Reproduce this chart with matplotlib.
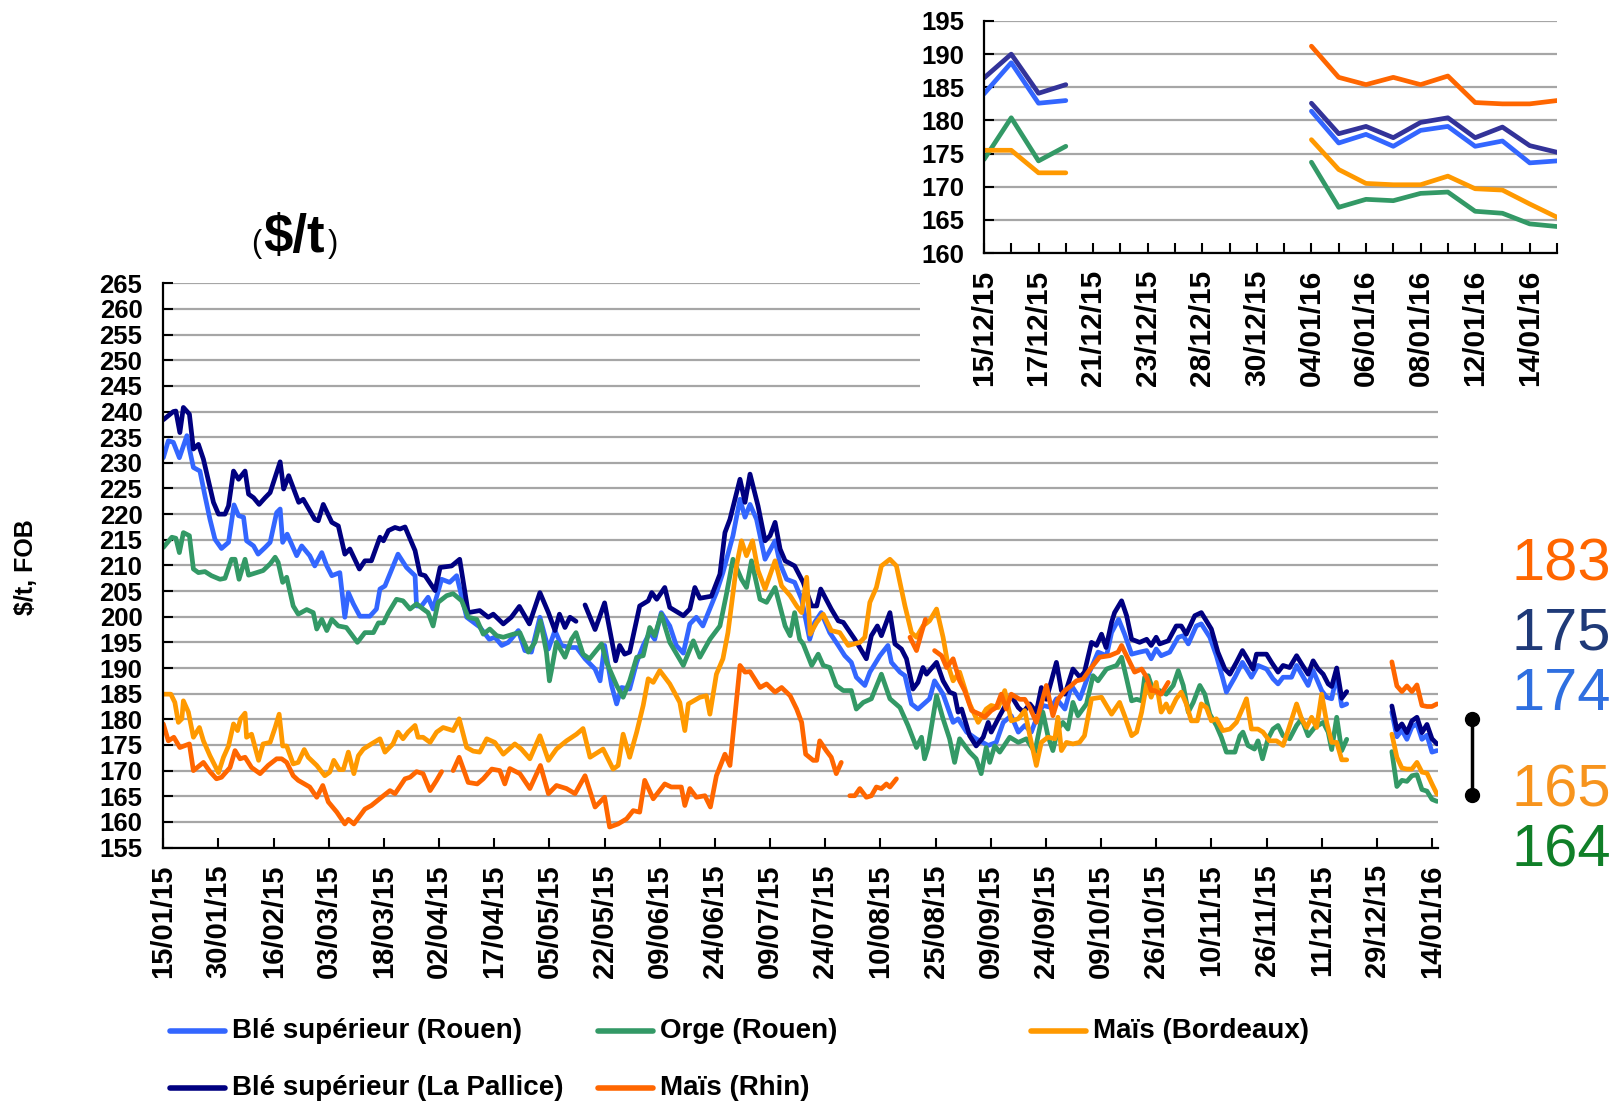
import numpy as np
import matplotlib
matplotlib.use("Agg")
import matplotlib.pyplot as plt
from matplotlib.lines import Line2D
from matplotlib.patches import Rectangle

plt.rcParams['font.family'] = ['Liberation Sans', 'DejaVu Sans']
plt.rcParams['font.weight'] = 'bold'

nan = np.nan

# Axe principal : jours ouvrés, une étiquette tous les 11 jours
date_labels = ['15/01/15', '30/01/15', '16/02/15', '03/03/15', '18/03/15', '02/04/15',
               '17/04/15', '05/05/15', '22/05/15', '09/06/15', '24/06/15', '09/07/15',
               '24/07/15', '10/08/15', '25/08/15', '09/09/15', '24/09/15', '09/10/15',
               '26/10/15', '10/11/15', '26/11/15', '11/12/15', '29/12/15', '14/01/16']

# Blé supérieur (Rouen)
rouen_day = [0, 1, 2, 3.2, 3.9, 4.7, 5.3, 6, 7.3, 8.3, 9.3, 10.3, 11.6, 13, 14.1, 15, 16, 16.6, 18,
             18.9, 20.3, 21.3, 22.6, 23.3, 23.8, 24.7, 26.6, 27.6, 29.2, 30.2, 31.6, 32.6, 33.6,
             35.2, 36.2, 36.9, 37.9, 39.2, 41.2, 42.5, 43.2, 44.2, 46.8, 48.5, 50.2, 50.5, 51.5,
             52.8, 53.8, 55.5, 57.1, 58.5, 60.5, 63.1, 65, 66.1, 67.5, 68.8, 70.8, 72.1, 73.4,
             75.1, 76.8, 78.1, 79.4, 81.1, 82.4, 84.1, 86.1, 87.1, 88, 89.4, 90.4, 91.4, 93, 94.4,
             95.7, 97, 98, 99.3, 101, 102.3, 103.7, 105, 106.3, 107.6, 110.3, 111.6, 113.6, 115,
             116, 117, 118.3, 120, 122, 123, 124.3, 125.9, 127.3, 128.9, 129.9, 131.2, 132.9,
             134.6, 135.9, 137.2, 138.2, 139.9, 140.9, 142.9, 144.5, 145.2, 146.9, 147.9, 149.2,
             150.5, 152.8, 153.8, 155.5, 157.5, 158.5, 160.2, 162.1, 164.5, 166.1, 167.5, 169.1,
             170.5, 171.8, 173.1, 174.1, 175.4, 177.1, 178.1, 179.8, 181.1, 182.8, 184.7, 186.4,
             188.1, 189.1, 190.5, 191.7, 193.1, 194.7, 196.1, 197, 198, 199, 200.7, 202.4, 203.4,
             204.4, 206, 207, 208.7, 210, 211.3, 212, 213.7, 215.2, 217, 218.3, 220, 221.3, 222.3,
             223.3, 225, 226, 227, 228.3, 229.3, 231, 232, 233, 234, 235, 236, 240, 245, 246,
             247, 248, 249, 250, 251, 252, 253, 254]
rouen_usd = [231.0, 234.3, 234.0, 231.0, 233.0, 235.3, 232.3, 229.1, 228.4, 223.6, 219.0, 215.1,
             213.3, 214.5, 221.8, 219.7, 219.4, 214.8, 213.8, 212.2, 213.5, 214.5, 220.3, 221.0,
             214.5, 216.1, 211.9, 213.8, 211.9, 209.9, 212.5, 209.9, 208.0, 208.6, 199.9, 204.7,
             202.5, 200.1, 200.1, 201.5, 205.4, 206.0, 212.2, 209.6, 208.0, 202.1, 202.1, 203.8,
             201.5, 207.3, 206.7, 208.0, 199.9, 198.0, 195.6, 196.0, 194.4, 195.0, 197.3, 193.4,
             193.1, 199.9, 193.7, 197.3, 194.4, 194.0, 194.0, 191.8, 189.8, 187.5, 194.4, 186.6,
             183.0, 186.2, 185.9, 191.1, 194.4, 196.9, 195.6, 200.8, 198.2, 194.4, 192.9, 198.6,
             199.9, 198.2, 204.7, 208.6, 215.8, 222.9, 219.4, 221.9, 219.0, 211.2, 214.8, 210.3,
             207.3, 206.7, 203.4, 195.6, 198.9, 200.8, 196.9, 194.4, 192.4, 191.1, 188.2, 186.6,
             189.2, 192.4, 194.4, 191.1, 189.2, 188.5, 183.0, 182.0, 184.0, 187.5, 184.9, 179.4,
             180.1, 177.5, 176.2, 174.9, 175.5, 179.4, 180.7, 177.5, 178.8, 177.5, 180.1, 182.7,
             182.3, 184.0, 182.0, 186.6, 184.0, 189.2, 193.1, 192.4, 196.9, 199.5, 196.6, 192.7,
             193.1, 193.4, 191.8, 193.7, 192.4, 193.1, 196.0, 196.3, 194.7, 198.2, 198.6, 196.0,
             192.4, 187.9, 185.3, 188.2, 191.1, 188.2, 190.5, 189.8, 187.9, 186.9, 188.2, 188.2,
             190.5, 188.8, 186.6, 189.5, 185.6, 184.3, 184.0, 188.7, 182.6, 183.0, nan, 181.4,
             176.6, 177.9, 176.1, 178.5, 179.1, 176.1, 176.9, 173.6, 173.9]

# Blé supérieur (La Pallice)
pallice_day = [0, 2, 2.5, 3.3, 4, 5.2, 6, 7, 8, 10, 11, 12.3, 13, 14, 15, 16.3, 17, 18, 19.1, 20.3,
               21.3, 23.3, 24, 25, 27, 27.9, 30.2, 30.9, 31.9, 33.6, 34.9, 36.2, 37.2, 39.1, 40.2,
               41.5, 43.2, 43.9, 44.9, 46.2, 47.2, 48.2, 50.2, 51.2, 52.2, 54.2, 55.2, 57.5, 59.1,
               60.8, 63.1, 64.8, 65.8, 67.8, 69.4, 71, 73, 75.1, 76.8, 78.1, 79, 80.1, 81.1, 82.3,
               83.2, 84.1, 86.1, 88, 90.2, 91, 92, 93, 95, 96.7, 97.4, 98.4, 100, 101, 103.7, 105,
               106, 107, 109.3, 111, 112, 113, 115, 116, 117, 118.6, 120, 121, 122, 123, 124,
               125.9, 127.6, 129.3, 130.3, 131.1, 133.2, 134.6, 135.6, 137.9, 140.2, 141.2, 142.4,
               143.2, 144.9, 145.9, 147.2, 148.2, 149.5, 150.5, 151.5, 152.2, 154.2, 155.5, 156.8,
               157.8, 158.5, 159.2, 160.8, 162.1, 163.5, 164.5, 165.1, 166.8, 168.1, 169.1, 170.5,
               171.5, 172.8, 174.1, 175.1, 176.1, 178.1, 179.1, 179.8, 181.4, 182.8, 183.7, 185.1,
               186.1, 187.1, 188, 189.1, 189.7, 191.1, 192.1, 193.1, 194.7, 196.1, 197, 198,
               198.7, 200.4, 202, 203, 204, 205.7, 207, 209, 210.3, 211.7, 212.7, 214, 215.2, 216,
               217.3, 218, 220, 221, 222.3, 223.3, 224.6, 226, 227, 228.3, 229.3, 230.3, 231.3,
               232.3, 233, 234, 235, 236, 240, 245, 246, 247, 248, 249, 250, 251, 252, 253, 254]
pallice_usd = [238.4, 240.0, 240.1, 235.9, 240.8, 239.5, 232.7, 233.6, 230.7, 222.3, 220.0, 220.0,
               221.6, 228.4, 226.8, 228.4, 223.9, 223.2, 221.9, 223.2, 224.2, 230.2, 224.9, 227.5,
               222.3, 222.9, 219.0, 218.7, 221.9, 218.4, 217.7, 212.2, 213.2, 209.3, 210.9, 210.9,
               215.5, 214.8, 216.8, 217.4, 217.1, 217.5, 212.9, 208.3, 208.0, 205.1, 209.6, 209.9,
               211.2, 200.8, 201.2, 199.9, 200.5, 198.6, 199.9, 202.0, 198.6, 204.7, 200.8, 197.3,
               200.5, 197.9, 199.9, 199.1, nan, 202.3, 197.5, 202.7, 191.4, 194.4, 192.7, 193.1,
               202.1, 203.1, 204.7, 203.4, 205.7, 201.8, 200.2, 201.5, 205.7, 203.6, 204.0, 208.3,
               216.4, 219.0, 226.8, 222.3, 227.8, 221.6, 214.8, 215.8, 218.4, 213.2, 210.9, 209.9,
               206.7, 202.1, 202.1, 205.4, 201.5, 199.2, 198.9, 195.6, 191.8, 196.3, 198.2, 196.3,
               200.8, 194.7, 193.7, 191.8, 185.9, 187.2, 190.1, 188.8, 191.1, 187.5, 185.3, 184.9,
               181.4, 182.0, 176.8, 174.8, 176.5, 179.4, 177.5, 180.7, 183.0, 184.6, 182.3, 181.4,
               183.0, 181.4, 186.2, 183.9, 191.1, 185.6, 184.9, 189.8, 188.2, 189.2, 195.0, 194.4,
               196.6, 194.0, 198.9, 200.8, 203.1, 200.2, 195.6, 195.0, 195.6, 194.4, 196.0, 194.7,
               195.3, 198.2, 198.2, 196.6, 200.2, 200.8, 197.6, 193.1, 189.8, 188.8, 191.1, 193.4,
               192.1, 189.8, 192.7, 192.7, 191.1, 189.2, 190.5, 190.1, 192.4, 190.8, 188.8, 191.4,
               189.8, 188.8, 186.9, 186.4, 190.0, 184.1, 185.4, nan, 182.6, 178.0, 179.1, 177.4,
               179.7, 180.4, 177.4, 179.0, 176.2, 175.2]

# Orge (Rouen)
orge_day = [0, 1.7, 2.5, 3.2, 4, 5.2, 6, 7, 8.3, 9.6, 11.3, 12.3, 13.6, 14.3, 15.1, 16.3, 17, 18.6,
            19.9, 21.3, 22.3, 22.9, 23.8, 24.6, 25.2, 25.9, 26.9, 28.6, 29.9, 30.6, 31.6, 32.6,
            33.6, 34.9, 36.5, 37.5, 38.7, 40.2, 41.9, 42.9, 43.9, 44.9, 46.5, 47.8, 49.2, 50.5,
            51.8, 52.8, 53.8, 54.8, 56.5, 57.8, 59.5, 60.8, 62.5, 63.8, 65.1, 66.5, 67.8, 69.8,
            71.1, 72.8, 74.1, 75.2, 76.4, 77, 77.4, 78.4, 80.1, 81.4, 82.3, 83.7, 85, 87.4, 88.4,
            90.4, 91.7, 93, 94.4, 95.7, 97, 98, 99.3, 101, 103.7, 105.7, 107, 109, 111, 112.3,
            113.6, 115.3, 116.3, 117.3, 119, 120.3, 122, 124, 125, 125.9, 126.9, 127.6, 129.3,
            130.6, 131.6, 132.9, 134.2, 135.6, 137.2, 138.2, 139.6, 141.2, 143.2, 144.9, 146.9,
            148.5, 150.2, 151.2, 151.8, 152.5, 154.2, 155.5, 156.8, 157.8, 158.8, 160.8, 162.1,
            163.1, 164.1, 164.8, 165.8, 166.8, 168.8, 170.5, 172.1, 173.8, 175.4, 176.4, 177.4,
            178.4, 179.4, 180.4, 181.4, 182.4, 184.1, 185.4, 186.4, 188.1, 190.1, 191.1, 192.1,
            193.1, 194.1, 195.1, 195.7, 196.4, 197.4, 198.7, 200, 201.4, 202.4, 203.4, 204.4,
            205.4, 206.7, 207.7, 208.7, 210, 211, 212, 213.7, 214.7, 215.3, 216.3, 217.6, 218.3,
            219.2, 220.3, 221.3, 222.3, 223.3, 224.6, 226, 227, 228.3, 229.6, 231.3, 232.3, 233,
            234, 235, 236, 240, 245, 246, 247, 248, 249, 250, 251, 252, 253, 254]
orge_usd = [213.5, 215.5, 215.3, 212.5, 216.4, 215.8, 209.3, 208.6, 208.8, 208.0, 207.3, 207.5,
            211.2, 211.2, 207.3, 211.2, 208.1, 208.6, 209.0, 210.3, 211.6, 210.6, 206.7, 207.7,
            205.1, 202.1, 200.5, 201.4, 200.8, 197.6, 199.5, 197.3, 199.5, 198.2, 197.9, 196.6,
            195.0, 196.9, 196.9, 198.8, 198.8, 200.8, 203.4, 203.1, 201.5, 202.5, 201.5, 200.8,
            198.2, 202.8, 204.1, 204.5, 203.1, 199.9, 199.5, 196.6, 197.6, 196.3, 196.0, 196.6,
            196.9, 193.1, 195.0, 199.2, 193.1, 187.5, 189.5, 195.0, 192.1, 195.6, 196.9, 192.7,
            191.8, 194.7, 191.1, 186.6, 184.3, 187.5, 192.1, 192.4, 197.9, 196.3, 200.5, 195.0,
            190.5, 195.3, 192.1, 195.6, 198.2, 204.4, 211.2, 207.3, 205.7, 210.9, 203.4, 202.8,
            205.7, 198.2, 196.3, 200.8, 195.6, 194.7, 190.5, 192.7, 190.5, 190.1, 186.6, 185.6,
            185.6, 182.0, 183.3, 184.0, 188.8, 184.0, 182.3, 178.8, 174.5, 176.5, 172.3, 174.5,
            184.6, 180.1, 176.2, 171.6, 176.2, 173.6, 172.3, 169.4, 174.5, 171.6, 174.8, 173.6,
            176.5, 175.5, 176.2, 173.6, 181.4, 176.8, 173.9, 178.1, 179.4, 178.1, 183.3, 180.7,
            183.0, 188.5, 187.5, 189.8, 190.5, 192.1, 187.9, 183.6, 183.9, 183.6, 188.2, 188.5,
            185.6, 185.6, 184.9, 186.6, 189.5, 186.6, 181.4, 183.3, 186.6, 184.9, 181.0, 178.8,
            176.5, 173.6, 173.6, 176.8, 177.5, 174.9, 174.2, 175.8, 172.3, 176.2, 178.1, 178.8,
            176.8, 176.2, 178.8, 180.1, 176.8, 178.4, 179.4, 177.5, 174.1, 180.4, 173.9, 176.1,
            nan, 173.7, 166.9, 168.1, 167.9, 169.0, 169.2, 166.3, 166.0, 164.4, 164.0]

# Maïs (Bordeaux)
bordeaux_day = [0, 1.5, 2.3, 3, 3.7, 4, 5, 6, 7.2, 8, 9.3, 11, 12, 13, 14, 14.8, 15.4, 16.3, 16.6,
                17.6, 19, 19.9, 21.3, 22.3, 23.1, 23.8, 24.6, 25.9, 26.9, 28.1, 28.9, 30.6, 32.2,
                33.2, 34, 35.1, 35.9, 36.9, 38, 38.9, 39.9, 41.5, 43.2, 44.2, 45.8, 46.8, 47.8,
                48.8, 50.2, 50.8, 51.8, 53.2, 54.5, 55.8, 57.8, 59, 60.5, 61.8, 63.1, 64.5, 66.1,
                67.8, 70.1, 71.4, 73.1, 75.1, 76.8, 78.4, 80.4, 82.4, 83.7, 85.1, 87.7, 89.7, 90.7,
                91.7, 93, 94.4, 95.7, 96.7, 97.7, 99, 101, 103, 104, 104.7, 107, 108.3, 109, 110.3,
                111.6, 112.6, 114.3, 115.3, 116.3, 117.5, 118.6, 120, 122, 123.3, 125, 126.3,
                127.3, 128.3, 129, 130.3, 131.6, 133.2, 134.9, 136.6, 138.9, 139.9, 140.9, 142.2,
                143.2, 144.9, 146.2, 147.9, 149.2, 150.2, 151.5, 152.8, 154.2, 155.5, 156.5, 157.5,
                158.8, 160.8, 162.5, 164.1, 165.1, 166.5, 167.8, 169.1, 170.5, 171.8, 172.8, 174.1,
                175.1, 176.4, 177.8, 178.4, 179.1, 180.1, 181.4, 182.7, 183.7, 185.1, 187.1, 189.1,
                190.7, 191.7, 193.1, 194.1, 195.1, 196.1, 197, 198, 199, 200, 200.7, 202, 203, 204,
                205, 206.2, 207, 208, 209, 210, 211.3, 212.7, 214, 215.3, 216, 217, 218.3, 219.3,
                220.6, 222, 223.3, 224.3, 226, 227, 228, 229, 230, 231, 232, 233, 234, 235, 236,
                240, 245, 246, 247, 248, 249, 250, 251, 252, 253, 254]
bordeaux_usd = [184.9, 184.9, 183.3, 179.4, 180.1, 183.6, 181.4, 176.5, 178.4, 175.8, 172.9, 169.6,
                172.6, 174.8, 179.1, 177.8, 180.1, 181.2, 176.5, 177.1, 172.0, 175.2, 175.5, 178.4,
                181.0, 174.8, 174.8, 171.3, 171.6, 174.1, 172.6, 171.0, 169.0, 169.7, 172.0, 170.2,
                170.2, 173.6, 169.4, 172.9, 174.2, 175.2, 176.2, 173.6, 175.2, 177.5, 176.2, 177.5,
                178.8, 176.5, 176.5, 175.5, 177.5, 178.4, 177.8, 180.1, 174.5, 173.8, 173.6, 176.2,
                175.5, 173.2, 175.2, 174.2, 172.3, 176.8, 172.0, 174.2, 175.8, 177.1, 178.2, 172.6,
                174.2, 170.3, 171.0, 177.1, 172.6, 177.5, 182.7, 187.9, 187.2, 189.5, 186.9, 183.3,
                177.8, 183.0, 184.3, 184.6, 181.0, 188.8, 191.8, 196.9, 209.9, 214.8, 211.9, 214.8,
                209.0, 205.4, 210.9, 206.0, 204.1, 202.1, 200.8, 207.7, 196.6, 198.9, 200.5, 197.3,
                196.9, 194.4, 195.0, 196.0, 202.8, 205.7, 209.9, 211.2, 209.9, 202.1, 196.9, 196.0,
                198.2, 199.2, 201.5, 196.0, 190.5, 187.5, 189.2, 183.0, 179.4, 182.0, 182.7, 182.3,
                185.6, 179.7, 180.1, 181.7, 176.8, 171.0, 175.5, 176.5, 176.2, 180.4, 173.9, 175.5,
                175.2, 175.5, 176.8, 184.0, 184.3, 181.0, 183.3, 180.7, 176.8, 177.5, 181.4, 186.9,
                184.3, 187.2, 181.4, 183.0, 181.4, 184.0, 185.3, 183.0, 179.7, 179.7, 183.0, 182.3,
                179.7, 180.1, 177.8, 178.1, 179.4, 182.3, 184.0, 178.1, 178.1, 177.5, 175.8, 175.8,
                174.9, 177.8, 183.0, 180.1, 178.4, 180.4, 178.4, 184.9, 179.4, 175.5, 175.5, 172.1,
                172.1, nan, 177.1, 172.6, 170.5, 170.3, 170.3, 171.6, 169.7, 169.5, 167.4, 165.4]

# Maïs (Rhin)
rhin_day = [0, 1, 2.1, 3.3, 5.2, 6, 8, 9.3, 10.6, 11.6, 13.3, 14.3, 15.3, 16.3, 17.6, 19.3, 20.9,
            22.6, 23.6, 24.6, 25.9, 26.9, 29.2, 30.6, 31.8, 32.9, 34.6, 36.2, 36.9, 38, 40.2,
            41.5, 43.9, 45.2, 46.2, 48.2, 49.2, 50.5, 51.8, 53.2, 54.5, 55.5, 56.6, 57.8, 59,
            60.8, 62.6, 63.8, 65.5, 67.1, 68.1, 69.1, 71.1, 73.1, 75.2, 76.8, 78.4, 80.4, 82.1,
            84.1, 86.1, 88, 89, 90.7, 92.4, 93.7, 95, 96, 97.7, 100, 101.3, 103.3, 104, 105,
            106.3, 108, 109.1, 110.3, 112, 113, 115, 116, 117, 119, 120.3, 122, 123.3, 125,
            126.3, 127.3, 128.1, 129.6, 130.3, 130.9, 132.2, 133.2, 134.2, 135.2, 136, 136.9,
            137.9, 138.9, 140.2, 141.2, 142.2, 143.2, 144.2, 144.9, 146.2, 147.5, 148.9, 150.2,
            151.2, 152, 153, 153.8, 155.2, 156.2, 157.5, 158.8, 159.8, 161.2, 162.8, 163.8,
            165.1, 166.1, 167.1, 168.1, 169.1, 170.8, 171.8, 172.8, 174.1, 175.1, 176.1, 177.4,
            178.4, 179.8, 181.1, 182.1, 183.4, 184.4, 185.4, 186.7, 188.7, 190.4, 191.1, 192.1,
            193.7, 195.1, 196.1, 197, 197.7, 199, 200.4, 220, 245, 246, 247, 248, 249, 250, 251,
            252, 253, 254]
rhin_usd = [179.1, 175.8, 176.5, 174.5, 175.2, 170.0, 171.6, 169.8, 168.4, 168.7, 170.6, 173.9,
            172.3, 172.6, 170.6, 169.4, 171.0, 172.3, 172.3, 171.6, 169.0, 168.1, 166.8, 164.8,
            167.1, 163.9, 161.9, 159.6, 160.5, 159.6, 162.5, 163.2, 165.1, 166.1, 165.5, 168.4,
            168.7, 169.8, 169.4, 166.1, 168.1, 169.8, nan, 170.0, 172.6, 167.7, 167.4, 168.4,
            170.3, 170.0, 167.4, 170.4, 169.4, 166.5, 171.0, 165.5, 167.1, 166.5, 165.5, 169.0,
            162.9, 164.8, 159.0, 159.6, 160.6, 162.2, 161.9, 168.1, 164.5, 167.4, 166.8, 166.8,
            163.2, 166.5, 164.8, 165.1, 162.9, 169.0, 173.2, 171.0, 190.5, 189.2, 189.3, 186.2,
            186.9, 185.3, 186.2, 184.6, 182.0, 179.4, 173.2, 172.0, 172.0, 175.8, 173.9, 172.6,
            169.4, 171.6, nan, 165.1, 165.1, 166.5, 164.8, 165.1, 166.8, 166.5, 167.4, 166.8,
            168.4, nan, 196.0, 193.4, 196.9, 199.5, nan, 193.4, 192.4, 190.1, 191.8, 187.5,
            185.6, 181.7, 181.0, 180.4, 181.7, 182.3, 184.9, 182.0, 184.9, 183.9, 183.9, 182.3,
            179.4, 183.0, 186.6, 180.7, 183.9, 185.6, 186.6, 187.5, 187.8, 189.2, 190.5, 192.1,
            192.4, 193.1, 194.4, 192.4, 189.2, 189.8, 188.2, 185.6, 185.6, 184.9, 187.2, nan,
            191.2, 186.5, 185.4, 186.5, 185.4, 186.7, 182.7, 182.5, 182.5, 183.0]

# Zoom : 15/12/15 - 15/01/16
zoom_dates = ['15/12/15', '16/12/15', '17/12/15', '18/12/15', '21/12/15', '22/12/15', '23/12/15',
              '24/12/15', '28/12/15', '29/12/15', '30/12/15', '31/12/15', '04/01/16', '05/01/16',
              '06/01/16', '07/01/16', '08/01/16', '11/01/16', '12/01/16', '13/01/16', '14/01/16',
              '15/01/16']
zoom_rouen = [184.0, 188.7, 182.6, 183.0, nan, nan, nan, nan, nan, nan, nan, nan,
              181.4, 176.6, 177.9, 176.1, 178.5, 179.1, 176.1, 176.9, 173.6, 173.9]
zoom_pallice = [186.4, 190.0, 184.1, 185.4, nan, nan, nan, nan, nan, nan, nan, nan,
                182.6, 178.0, 179.1, 177.4, 179.7, 180.4, 177.4, 179.0, 176.2, 175.2]
zoom_orge = [174.1, 180.4, 173.9, 176.1, nan, nan, nan, nan, nan, nan, nan, nan,
             173.7, 166.9, 168.1, 167.9, 169.0, 169.2, 166.3, 166.0, 164.4, 164.0]
zoom_bordeaux = [175.5, 175.5, 172.1, 172.1, nan, nan, nan, nan, nan, nan, nan, nan,
                 177.1, 172.6, 170.5, 170.3, 170.3, 171.6, 169.7, 169.5, 167.4, 165.4]
zoom_rhin = [nan, nan, nan, nan, nan, nan, nan, nan, nan, nan, nan, nan,
             191.2, 186.5, 185.4, 186.5, 185.4, 186.7, 182.7, 182.5, 182.5, 183.0]

c_rouen, c_pallice, c_orge, c_bordeaux, c_rhin = '#3366FF', '#000080', '#339966', '#FF9900', '#FF6600'

fig = plt.figure(figsize=(16.17, 11.05), dpi=100)

# --- graphique principal ---
ax = fig.add_axes([0.1010, 0.2330, 0.7883, 0.5106])
main_series = [
    (rouen_day, rouen_usd, c_rouen),
    (pallice_day, pallice_usd, c_pallice),
    (orge_day, orge_usd, c_orge),
    (bordeaux_day, bordeaux_usd, c_bordeaux),
    (rhin_day, rhin_usd, c_rhin),
]
for days, usd, col in main_series:
    ax.plot(days, usd, color=col, lw=3.4, solid_joinstyle='round', solid_capstyle='round')

ax.set_xlim(0, 254.2)
ax.set_ylim(155, 265)
ax.set_yticks(np.arange(155, 266, 5))
ax.set_xticks(np.arange(0, 254, 11))
ax.set_xticklabels(date_labels, rotation=90)
ax.grid(axis='y', color='#a6a6a6', lw=1.6)
ax.set_axisbelow(True)
for s in ['top', 'right']:
    ax.spines[s].set_visible(False)
for s in ['left', 'bottom']:
    ax.spines[s].set_linewidth(1.6)
ax.tick_params(axis='both', direction='in', length=7, width=1.5)
ax.tick_params(axis='y', pad=15, labelsize=18.5)
ax.tick_params(axis='x', pad=12, labelsize=21)

# fond blanc derrière l'encart
fig.add_artist(Rectangle((0.569, 0.642), 0.431, 0.358, transform=fig.transFigure,
                         facecolor='white', edgecolor='none', zorder=2))

# --- encart ---
ins = fig.add_axes([0.6085, 0.771, 0.3544, 0.2100], zorder=3)
ins.set_facecolor('white')
zx = np.arange(len(zoom_dates))
for vals, col in [(zoom_rouen, c_rouen), (zoom_pallice, '#333399'), (zoom_orge, c_orge),
                  (zoom_bordeaux, c_bordeaux), (zoom_rhin, c_rhin)]:
    ins.plot(zx, vals, color=col, lw=3.4, solid_joinstyle='round', solid_capstyle='round')
ins.set_xlim(0, len(zoom_dates) - 1)
ins.set_ylim(160, 195)
ins.set_yticks(np.arange(160, 196, 5))
ins.set_xticks(zx)
ins.set_xticklabels([d if i % 2 == 0 else '' for i, d in enumerate(zoom_dates)], rotation=90)
ins.grid(axis='y', color='#a6a6a6', lw=1.6)
ins.set_axisbelow(True)
for s in ['top', 'right']:
    ins.spines[s].set_visible(False)
for s in ['left', 'bottom']:
    ins.spines[s].set_linewidth(1.6)
ins.tick_params(axis='both', direction='in', length=7, width=1.5)
ins.tick_params(axis='y', pad=14, labelsize=18.5)
ins.tick_params(axis='x', pad=12, labelsize=21.5)

# --- textes ---
fig.text(0.016, 0.487, '$/t, FOB', rotation=90, ha='center', va='center', fontsize=18)
fig.text(0.1818, 0.7722, '$/t', ha='center', va='baseline', fontsize=38)
fig.text(0.1614, 0.7722, '(', ha='right', va='baseline', fontsize=22, fontweight='normal')
fig.text(0.2025, 0.7722, ')', ha='left', va='baseline', fontsize=22, fontweight='normal')

# dernières valeurs à droite
last_labels = [
    (rhin_usd[-1], c_rhin, 0.4751),
    (pallice_usd[-1], '#1F3A78', 0.4118),
    (rouen_usd[-1], '#2F6FE0', 0.3575),
    (bordeaux_usd[-1], '#F7941D', 0.2700),
    (orge_usd[-1], '#107F28', 0.2157),
]
for val, col, yb in last_labels:
    fig.text(0.935, yb, f'{round(val)}', color=col, fontsize=43, fontweight='normal',
             ha='left', va='baseline')
fig.add_artist(Line2D([0.9103, 0.9103], [0.3493, 0.2805], transform=fig.transFigure,
                      color='black', lw=2.5, marker='o', markersize=10))

# --- légende ---
legend_items = [
    ('Blé supérieur (Rouen)', c_rouen, 0.1051, 0.0670),
    ('Orge (Rouen)', c_orge, 0.3698, 0.0670),
    ('Maïs (Bordeaux)', c_bordeaux, 0.6376, 0.0670),
    ('Blé supérieur (La Pallice)', c_pallice, 0.1051, 0.0154),
    ('Maïs (Rhin)', c_rhin, 0.3698, 0.0154),
]
for name, col, x0, y0 in legend_items:
    fig.add_artist(Line2D([x0, x0 + 0.034], [y0, y0], transform=fig.transFigure,
                          color=col, lw=4, solid_capstyle='round'))
    fig.text(x0 + 0.0385, y0, name, ha='left', va='center', fontsize=20)

fig.savefig('out.png', dpi=100)
